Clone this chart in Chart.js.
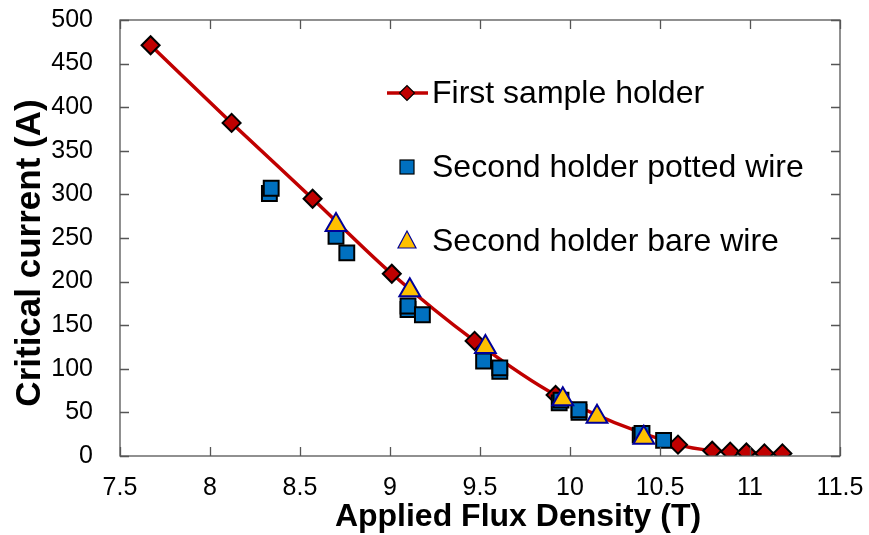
<!DOCTYPE html>
<html>
<head>
<meta charset="utf-8">
<script src="https://cdn.jsdelivr.net/npm/chart.js@4.4.1/dist/chart.umd.min.js"></script>
<style>
  html, body { margin: 0; padding: 0; background: #fff; }
  #wrap { width: 869px; height: 535px; position: relative; }
</style>
</head>
<body>
<div id="wrap"><canvas id="chart"></canvas></div>
<script>
// first sample holder (diamonds + line)
const firstX = [7.67, 8.12, 8.57, 9.01, 9.47, 9.92, 10.60, 10.79, 10.89, 10.98, 11.08, 11.18]
const firstY = [471, 382, 295, 209, 132, 70, 13, 6, 5, 4, 3, 3]

// second holder potted wire (squares)
const pottedX = [8.33, 8.34, 8.70, 8.76, 9.10, 9.10, 9.18, 9.52, 9.61, 9.61, 9.94, 9.95, 10.05, 10.05, 10.39, 10.40, 10.52]
const pottedY = [301, 307, 252, 233, 168, 172, 162, 109, 97, 101, 61, 64, 50, 53, 24, 26, 18]

// second holder bare wire (triangles)
const bareX = [8.70, 9.11, 9.53, 9.96, 10.15, 10.41]
const bareY = [265, 190, 125, 65, 45, 21]

const xTicks = [7.5, 8, 8.5, 9, 9.5, 10, 10.5, 11, 11.5]
const yTicks = [0, 50, 100, 150, 200, 250, 300, 350, 400, 450, 500]

const labels = ['First sample holder', 'Second holder potted wire', 'Second holder bare wire']
const xTitle = 'Applied Flux Density (T)'
const yTitle = 'Critical current (A)'

const toPoints = (xs, ys) => xs.map((x, i) => ({ x: x, y: ys[i] }))

const RED = '#C00000'
const BLUE = '#0070C0'
const GOLD = '#FFC000'
const NAVY = '#000099'
const FONT = '"Liberation Sans", Arial, sans-serif'

// box round the plot, tick marks pointing inwards, axis titles, legend
const framePlugin = {
    id: 'frame',
    afterDraw(chart) {
        const { ctx, chartArea: a, scales } = chart
        ctx.save()
        ctx.strokeStyle = '#555'
        ctx.lineWidth = 1.3
        ctx.strokeRect(a.left, a.top, a.right - a.left, a.bottom - a.top)
        ctx.beginPath()
        xTicks.forEach(v => {
            const px = Math.round(scales.x.getPixelForValue(v)) + 0.5
            ctx.moveTo(px, a.bottom); ctx.lineTo(px, a.bottom - 9)
            ctx.moveTo(px, a.top); ctx.lineTo(px, a.top + 9)
        })
        yTicks.forEach(v => {
            const py = Math.round(scales.y.getPixelForValue(v)) + 0.5
            ctx.moveTo(a.left, py); ctx.lineTo(a.left + 9, py)
            ctx.moveTo(a.right, py); ctx.lineTo(a.right - 9, py)
        })
        ctx.stroke()

        // axis titles
        ctx.fillStyle = '#000'
        ctx.textAlign = 'center'
        ctx.textBaseline = 'alphabetic'
        ctx.font = 'bold 32px ' + FONT
        ctx.fillText(xTitle, 518, 526)
        ctx.font = 'bold 35px ' + FONT
        ctx.translate(40, 253)
        ctx.rotate(-Math.PI / 2)
        ctx.fillText(yTitle, 0, 0)
        ctx.restore()

        // legend
        ctx.save()
        const lx = 407
        const rows = [93, 167, 241]
        ctx.font = '32px ' + FONT
        ctx.textBaseline = 'middle'
        ctx.textAlign = 'left'
        ctx.fillStyle = '#000'
        labels.forEach((t, i) => ctx.fillText(t, 432, rows[i] + 1))

        ctx.strokeStyle = RED
        ctx.lineWidth = 3.5
        ctx.beginPath()
        ctx.moveTo(387, rows[0]); ctx.lineTo(428, rows[0])
        ctx.stroke()

        ctx.lineWidth = 1.2
        ctx.strokeStyle = '#000'
        ctx.fillStyle = RED
        ctx.beginPath()
        ctx.moveTo(lx - 7.5, rows[0]); ctx.lineTo(lx, rows[0] - 7.5)
        ctx.lineTo(lx + 7.5, rows[0]); ctx.lineTo(lx, rows[0] + 7.5)
        ctx.closePath(); ctx.fill(); ctx.stroke()

        ctx.fillStyle = BLUE
        ctx.fillRect(lx - 7, rows[1] - 7, 14, 14)
        ctx.strokeRect(lx - 7, rows[1] - 7, 14, 14)

        ctx.fillStyle = GOLD
        ctx.strokeStyle = NAVY
        ctx.beginPath()
        ctx.moveTo(lx, rows[2] - 10); ctx.lineTo(lx + 9, rows[2] + 7)
        ctx.lineTo(lx - 9, rows[2] + 7)
        ctx.closePath(); ctx.fill(); ctx.stroke()
        ctx.restore()
    }
}

new Chart(document.getElementById('chart'), {
    type: 'scatter',
    data: {
        datasets: [
            {
                label: labels[2],
                data: toPoints(bareX, bareY),
                pointStyle: 'triangle',
                pointRadius: 12,
                pointBackgroundColor: GOLD,
                pointBorderColor: NAVY,
                pointBorderWidth: 2,
                order: 0
            },
            {
                label: labels[1],
                data: toPoints(pottedX, pottedY),
                pointStyle: 'rect',
                pointRadius: 10.5,
                pointBackgroundColor: BLUE,
                pointBorderColor: '#000',
                pointBorderWidth: 2,
                order: 1
            },
            {
                label: labels[0],
                data: toPoints(firstX, firstY),
                showLine: true,
                borderColor: RED,
                borderWidth: 3.5,
                cubicInterpolationMode: 'monotone',
                pointStyle: 'rectRot',
                pointRadius: 9,
                pointBackgroundColor: RED,
                pointBorderColor: '#000',
                pointBorderWidth: 2,
                order: 2
            }
        ]
    },
    options: {
        responsive: true,
        maintainAspectRatio: false,
        animation: false,
        layout: { padding: { top: 20, right: 29, left: 0, bottom: 0 } },
        plugins: {
            legend: { display: false },
            tooltip: { enabled: false }
        },
        scales: {
            x: {
                type: 'linear',
                min: 7.5,
                max: 11.5,
                afterFit: s => {
                    s.height = 79
                    s.paddingLeft = 0
                    s.paddingRight = 0
                },
                afterBuildTicks: s => { s.ticks = xTicks.map(v => ({ value: v })) },
                grid: { display: false, drawTicks: false },
                border: { display: false },
                ticks: {
                    color: '#000',
                    font: { family: FONT, size: 25 },
                    padding: 17,
                    maxRotation: 0,
                    callback: v => String(v)
                }
            },
            y: {
                min: 0,
                max: 500,
                afterFit: s => {
                    s.width = 120
                    s.paddingTop = 0
                    s.paddingBottom = 0
                },
                afterBuildTicks: s => { s.ticks = yTicks.map(v => ({ value: v })) },
                grid: { display: false, drawTicks: false },
                border: { display: false },
                ticks: {
                    color: '#000',
                    font: { family: FONT, size: 25 },
                    padding: 27,
                    callback: v => String(v)
                }
            }
        }
    },
    plugins: [framePlugin]
})
</script>
</body>
</html>
